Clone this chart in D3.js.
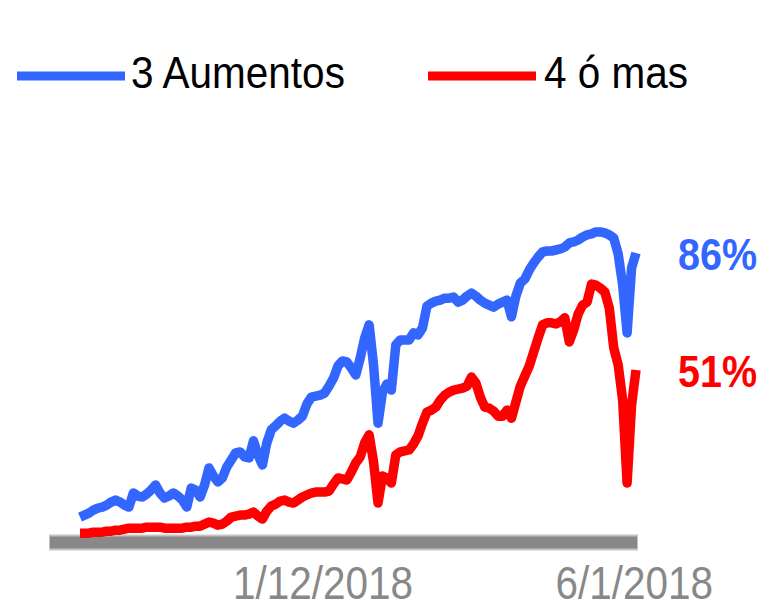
<!DOCTYPE html>
<html>
<head>
<meta charset="utf-8">
<script src="https://cdn.jsdelivr.net/npm/d3@7"></script>
<style>
html,body{margin:0;padding:0;background:#fff;}
svg{display:block;}
text{font-family:"Liberation Sans",Arial,sans-serif;}
</style>
</head>
<body>
<svg id="chart" width="772" height="607"></svg>
<script>
const dates = [
"2017-09-25","2017-09-27","2017-09-29",
"2017-10-01","2017-10-03","2017-10-05","2017-10-07","2017-10-09","2017-10-11","2017-10-13","2017-10-15",
"2017-10-17","2017-10-19","2017-10-21","2017-10-23","2017-10-25","2017-10-27","2017-10-29","2017-10-31",
"2017-11-02","2017-11-04","2017-11-06","2017-11-08","2017-11-10","2017-11-12","2017-11-14","2017-11-16",
"2017-11-18","2017-11-20","2017-11-22","2017-11-24","2017-11-26","2017-11-28","2017-11-30",
"2017-12-02","2017-12-04","2017-12-06","2017-12-08","2017-12-10","2017-12-12","2017-12-14","2017-12-16",
"2017-12-18","2017-12-20","2017-12-22","2017-12-24","2017-12-26","2017-12-28","2017-12-30",
"2018-01-01","2018-01-03","2018-01-05","2018-01-07","2018-01-09","2018-01-11","2018-01-13","2018-01-15",
"2018-01-17","2018-01-19","2018-01-21","2018-01-23","2018-01-25","2018-01-27","2018-01-29","2018-01-31",
"2018-02-02","2018-02-04","2018-02-06","2018-02-08","2018-02-10","2018-02-12","2018-02-14","2018-02-16",
"2018-02-18","2018-02-20","2018-02-22","2018-02-24","2018-02-26","2018-02-28",
"2018-03-02","2018-03-04","2018-03-06","2018-03-08","2018-03-10","2018-03-12","2018-03-14","2018-03-16",
"2018-03-18","2018-03-20","2018-03-22","2018-03-24","2018-03-26","2018-03-28","2018-03-30",
"2018-04-01","2018-04-03","2018-04-05","2018-04-07","2018-04-09","2018-04-11","2018-04-13","2018-04-15",
"2018-04-17","2018-04-19","2018-04-21","2018-04-23","2018-04-25","2018-04-27","2018-04-29",
"2018-05-01","2018-05-03","2018-05-05","2018-05-07","2018-05-09","2018-05-11","2018-05-13","2018-05-15",
"2018-05-17","2018-05-19","2018-05-21","2018-05-23","2018-05-25","2018-05-27","2018-05-29","2018-05-31",
"2018-06-02"
];

const threeHikes = [
7.0,7.6,8.2,
9.1,9.7,10.0,10.6,11.5,12.1,11.5,10.6,
10.0,14.2,13.3,13.0,13.9,15.1,16.6,14.2,
12.7,13.3,14.2,13.3,12.1,10.0,15.7,15.1,
13.0,16.6,21.7,19.3,17.5,18.7,22.0,
24.1,26.2,26.5,25.0,24.7,29.8,25.6,22.6,
29.2,33.1,34.3,35.7,36.6,35.7,35.1,
36.0,37.2,40.8,42.9,43.2,43.5,44.1,46.2,
48.6,52.2,53.7,53.4,51.6,49.5,54.6,60.6,
64.5,52.5,35.1,44.4,46.8,45.0,58.5,60.0,
60.0,60.0,62.1,61.5,63.6,70.1,
71.0,71.6,71.9,72.5,72.5,72.8,71.3,71.9,
73.1,74.0,73.1,71.9,71.0,70.4,69.8,
70.7,71.3,71.9,66.9,73.1,77.0,78.2,80.9,
83.0,84.8,86.3,86.6,86.6,86.9,87.2,
87.8,89.0,89.3,89.9,90.8,91.4,91.7,92.3,
92.3,92.0,91.4,90.5,85.7,76.4,62.1,81.5,
86.0
];

const fourOrMore = [
2.2,2.2,2.2,
2.5,2.5,2.5,2.8,2.8,3.1,3.1,3.4,
3.7,3.7,3.7,3.7,4.0,4.0,4.0,4.0,
3.7,3.7,3.7,3.7,3.7,4.0,4.0,4.3,
4.3,4.9,5.5,5.2,4.6,4.9,5.8,
7.0,7.3,7.6,7.6,7.9,8.5,7.3,6.4,
8.8,10.3,10.9,11.8,12.1,11.5,11.2,
12.1,13.0,13.6,14.2,14.5,14.5,14.5,14.8,
16.9,18.7,18.4,18.1,20.5,23.2,25.0,29.2,
31.6,23.5,11.2,19.3,18.7,17.2,25.6,26.5,
26.8,27.1,28.9,31.3,35.1,38.4,
39.0,39.9,42.0,43.5,44.4,45.0,45.3,45.6,
46.2,48.9,47.1,42.9,39.9,39.6,38.7,
37.2,37.2,39.0,36.6,41.4,46.2,49.2,52.2,
56.4,60.6,64.5,65.1,65.1,64.8,65.4,
66.6,59.4,63.0,67.8,70.4,71.3,76.7,76.4,
75.5,74.3,69.5,57.6,52.5,42.0,17.2,40.5,
51.0
];

const seriesNames = ["3 Aumentos", "4 ó mas"];
const seriesColors = ["#3366ff", "#ff0000"];
const endLabels = ["86%", "51%"];
const tickDates = ["2018-01-12", "2018-06-01"];
const tickLabels = ["1/12/2018", "6/1/2018"];

const parse = d3.timeParse("%Y-%m-%d");
const dateObjs = dates.map(parse);
const seriesValues = [threeHikes, fourOrMore];

const svg = d3.select("#chart");

const x = d3.scaleTime()
  .domain(d3.extent(dateObjs))
  .range([80, 636]);
const y = d3.scaleLinear()
  .domain([0, 100])
  .range([540.5, 206.2]);

const STRETCH = 1.12;

// gray base bar (x axis)
const axisY = 542.5;
svg.append("line")
  .attr("x1", x.range()[0] - 31).attr("x2", x.range()[1] + 2)
  .attr("y1", axisY).attr("y2", axisY)
  .attr("stroke", "#c4c4c4").attr("stroke-width", 16);
svg.append("line")
  .attr("x1", x.range()[0] - 30).attr("x2", x.range()[1] + 1)
  .attr("y1", axisY).attr("y2", axisY)
  .attr("stroke", "#888888").attr("stroke-width", 12);

// tick labels
const axis = d3.axisBottom(x)
  .tickValues(tickDates.map(parse))
  .tickSize(0)
  .tickFormat((d, i) => tickLabels[i]);
const gAxis = svg.append("g").attr("transform", `translate(0,${axisY})`).call(axis);
gAxis.select(".domain").remove();
gAxis.selectAll("text")
  .attr("y", 0).attr("dy", 0)
  .attr("transform", `translate(0,56) scale(1,${STRETCH + 0.02})`)
  .attr("fill", "#888888")
  .style("font-size", "40.5px")
  .style("font-family", "'Liberation Sans', Arial, sans-serif");

// lines
const line = d3.line()
  .x((d, i) => x(dateObjs[i]))
  .y(d => y(d))
  .curve(d3.curveLinear);

seriesValues.forEach((vals, s) => {
  svg.append("path")
    .datum(vals)
    .attr("d", line)
    .attr("fill", "none")
    .attr("stroke", seriesColors[s])
    .attr("stroke-width", 9.5)
    .attr("stroke-linejoin", "round")
    .attr("stroke-linecap", "butt");
});

// end labels
seriesValues.forEach((vals, s) => {
  const lx = x(dateObjs[dateObjs.length - 1]) + 42;
  const ly = y(vals[vals.length - 1]) + 17;
  svg.append("text")
    .attr("transform", `translate(${lx},${ly}) scale(1,${STRETCH})`)
    .attr("fill", seriesColors[s])
    .style("font-weight", "bold")
    .style("font-size", "39.5px")
    .text(endLabels[s]);
});

// legend
const legendX = [17, 428];
seriesNames.forEach((name, s) => {
  const g = svg.append("g").attr("transform", `translate(${legendX[s]},76)`);
  g.append("line")
    .attr("x1", 0).attr("x2", 108)
    .attr("y1", 0).attr("y2", 0)
    .attr("stroke", seriesColors[s])
    .attr("stroke-width", 9);
  g.append("text")
    .attr("transform", `translate(${s === 0 ? 114 : 116},12) scale(1,${STRETCH - 0.03})`)
    .attr("fill", "#000")
    .style("font-size", "40.5px")
    .text(name);
});
</script>
</body>
</html>
